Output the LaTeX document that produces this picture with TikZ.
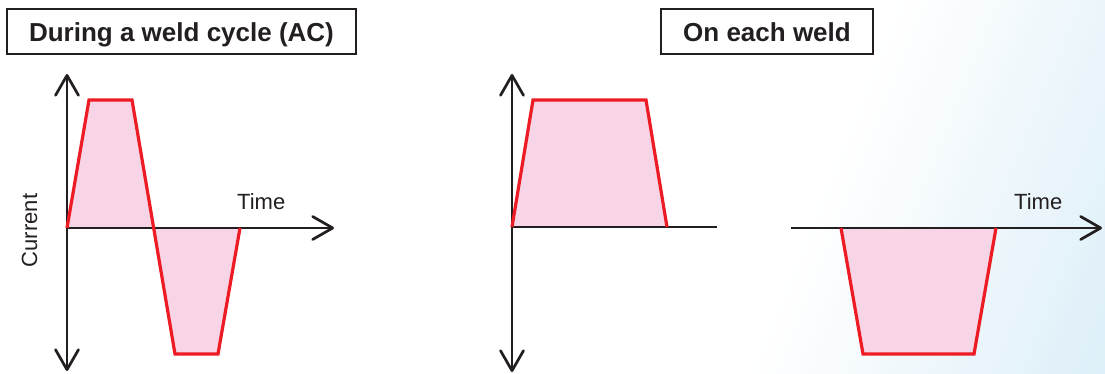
\documentclass[tikz,border=0pt]{standalone}
\usepackage{fontspec}
\setmainfont{Liberation Sans}
\usetikzlibrary{arrows.meta}
\definecolor{ink}{HTML}{231F20}
\definecolor{wred}{HTML}{ED1C24}
\definecolor{wpink}{HTML}{F8D5E6}
\definecolor{bgblue}{HTML}{DCEEF8}
\begin{document}
\begin{tikzpicture}[x=1pt,y=-1pt,
  axis/.style={draw=ink, line width=2.7pt},
  axtip/.style={-{Straight Barb[length=20pt,width=23pt,round]}},
  axboth/.style={{Straight Barb[length=20pt,width=23pt,round]}-{Straight Barb[length=20pt,width=23pt,round]}},
  wave/.style={draw=wred, line width=3.2pt},
  lobe/.style={fill=wpink},
  title/.style={draw=ink, line width=1.3pt, font=\bfseries\fontsize{26}{30}\selectfont, text=ink, inner sep=0pt, text height=32.7pt, text depth=12.3pt, minimum height=45pt},
  lbl/.style={font=\fontsize{22}{26}\selectfont, text=ink, inner sep=0pt}]
\useasboundingbox (0,0) rectangle (1105,374);
% background gradient
\begin{scope}
  \clip (0,0) rectangle (1105,374);
  \fill[white] (0,0) rectangle (1105,374);
  \begin{scope}[shift={(825,187)}, rotate=-22]
    \foreach \i in {0,...,39} {
      \pgfmathsetmacro\pct{100*(\i+0.5)/40}
      \fill[bgblue!\pct!white] (\i*8.5,-600) rectangle (\i*8.5+9.2,600);
    }
    \fill[bgblue] (340,-600) rectangle (900,600);
  \end{scope}
\end{scope}
% titles
\node[title, minimum width=349pt] (t1) at (181.5,31.5) {During a weld cycle (AC)};
\node[title, minimum width=212pt] (t2) at (767,31.5) {On each weld};
% coordinates
\coordinate (a1top) at (67,74);
\coordinate (a1bot) at (67,371);
\coordinate (a1o) at (67,228);
\coordinate (a1end) at (334,228);
\coordinate (a2top) at (512,74);
\coordinate (a2bot) at (512,372);
\coordinate (a2o) at (512,227);
\coordinate (a2end) at (717,227);
\coordinate (a3start) at (791,228);
\coordinate (a3end) at (1102,228);
% fills
\fill[lobe] (a1o) -- (89,100) -- (132,100) -- (175,354) -- (218,354) -- (240,228) -- cycle;
\fill[lobe] (a2o) -- (533,100) -- (646,100) -- (667,227) -- cycle;
\fill[lobe] (841,228) -- (863,354) -- (974,354) -- (996,228) -- cycle;
% axes
\draw[axis, axboth] (a1bot) -- (a1top);
\draw[axis, axtip] (a1o) -- (a1end);
\draw[axis, axboth] (a2bot) -- (a2top);
\draw[axis] (a2o) -- (a2end);
\draw[axis, axtip] (a3start) -- (a3end);
% waves
\draw[wave] (a1o) -- (89,100) -- (132,100) -- (175,354) -- (218,354) -- (240,228);
\draw[wave] (a2o) -- (533,100) -- (646,100) -- (667,227);
\draw[wave] (841,228) -- (863,354) -- (974,354) -- (996,228);
% labels
\node[lbl, anchor=base west] (time1) at (237,210) {Time};
\node[lbl, anchor=base west] (time2) at (1014,210) {Time};
\node[lbl, rotate=90, anchor=base] (cur) at (37,230.5) {Current};
\end{tikzpicture}
\end{document}
